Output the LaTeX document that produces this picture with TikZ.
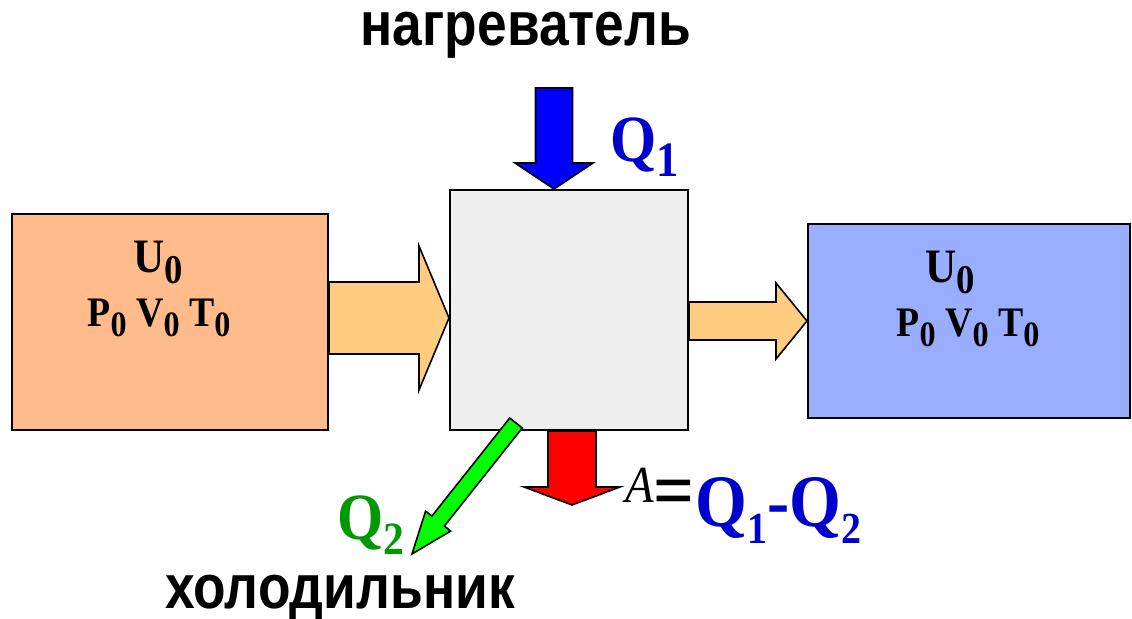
\documentclass[tikz,border=0pt]{standalone}
\usepackage{fontspec,graphicx}
\setmainfont{Liberation Serif}[FakeStretch=0.9]
\setsansfont{Liberation Sans}[FakeStretch=0.86]
\usetikzlibrary{calc,positioning}

\definecolor{boxorange}{HTML}{FFBB8B}
\definecolor{boxgray}{HTML}{EEEEEE}
\definecolor{boxblue}{HTML}{99AEFF}
\definecolor{flowcol}{HTML}{FFCC80}
\definecolor{qblue}{HTML}{0000CC}
\definecolor{qgreen}{HTML}{009900}

% subscript, lowered
\newcommand\lo[2][.85]{\raisebox{-.22em}{\scalebox{#1}{#2}}}
% block arrow: style, from, to, shaft half width, head half width, head length
\newcommand\fatarrow[6]{%
  \coordinate (hb) at ($(#3)!#6!(#2)$);
  \draw[#1] ($(#2)!#4!90:(#3)$) -- ($(hb)!#4!90:(#3)$) -- ($(hb)!#5!90:(#3)$)
    -- (#3) -- ($(hb)!#5!-90:(#3)$) -- ($(hb)!#4!-90:(#3)$)
    -- ($(#2)!#4!-90:(#3)$) -- cycle;}

\tikzset{
  state/.style={draw,line width=1pt,inner sep=0pt},
  flow/.style={draw,line width=.8pt,line join=miter},
  param/.style={inner sep=0pt,font=\bfseries\fontsize{#1}{#1}\selectfont},
  label/.style={inner sep=0pt,font=\sffamily\bfseries\fontsize{31}{31}\selectfont},
}

\begin{document}
\begin{tikzpicture}[x=.5pt,y=-.5pt]
 \useasboundingbox (0,0) rectangle (1132,619);
 % the three boxes
 \node[state,fill=boxorange,minimum width=158pt,minimum height=108pt] (lbox) at (170,322) {};
 \node[state,fill=boxgray,minimum width=119pt,minimum height=120pt] (cbox) at (569,310) {};
 \node[state,fill=boxblue,minimum width=161pt,minimum height=97pt] (rbox) at (969,321) {};
 % state parameters
 \node[param=24,anchor=base] (lu) at (158,273) {U\lo{0}};
 \node[param=21,anchor=base] (lpvt) at (159,327) {P\lo{0} V\lo{0} T\lo{0}};
 \node[param=24,anchor=base] (ru) at (950,283) {U\lo{0}};
 \node[param=21,anchor=base] (rpvt) at (968,337) {P\lo{0} V\lo{0} T\lo{0}};
 % flows in and out
 \coordinate (lin) at (lbox.east |- 0,318);
 \coordinate (lout) at (cbox.west |- 0,318);
 \fatarrow{flow,fill=flowcol}{lin}{lout}{18pt}{36pt}{15pt}
 \coordinate (rin) at (cbox.east |- 0,321);
 \coordinate (rout) at (rbox.west |- 0,321);
 \fatarrow{flow,fill=flowcol}{rin}{rout}{9.5pt}{19pt}{15.5pt}
 % heat and work
 \coordinate (htop) at (554,88);
 \coordinate (hend) at (cbox.north -| 554,0);
 \fatarrow{flow,fill=blue}{htop}{hend}{9.25pt}{19.5pt}{13pt}
 \coordinate (wtop) at (cbox.south -| 572,0);
 \coordinate (wend) at (572,505);
 \fatarrow{flow,fill=red}{wtop}{wend}{12pt}{24pt}{9pt}
 \coordinate (ctop) at (516,423);
 \coordinate (cend) at (412,554);
 \fatarrow{flow,fill=green}{ctop}{cend}{4pt}{8pt}{21pt}
 % texts
 \node[label,anchor=base] (heater) at (526,46) {нагреватель};
 \node[label,anchor=base] (cooler) at (340,609) {холодильник};
 \node[param=33,text=qblue,anchor=base west] (qin) at (610,162) {Q\lo[.75]{1}};
 \node[param=33,text=qgreen,anchor=base west] (qout) at (337,540) {Q\lo[.7]{2}};
 \node[inner sep=0pt,font=\itshape\fontsize{26}{26}\selectfont,anchor=base west] (awork) at (625,503) {A};
 \node[param=40] (aeq) at (674,499) {=};
 \node[param=37,text=qblue,anchor=base west] (adiff) at (695,527) {Q\lo[.6]{1}-Q\lo[.6]{2}};
\end{tikzpicture}
\end{document}
